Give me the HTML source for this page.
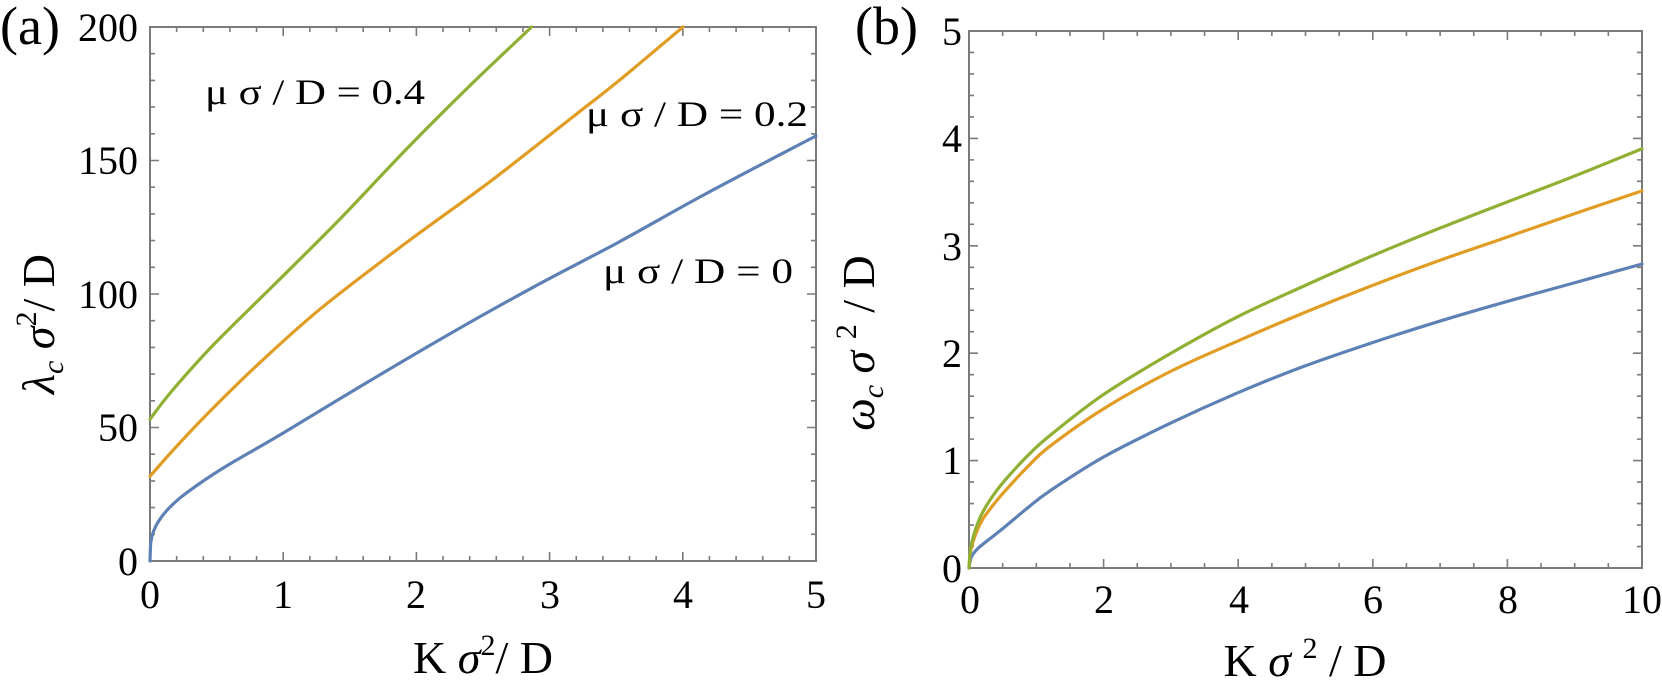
<!DOCTYPE html>
<html><head><meta charset="utf-8"><style>
html,body{margin:0;padding:0;background:#fff;}
svg{display:block;font-family:"Liberation Serif","DejaVu Serif",serif;}
</style></head><body>
<svg id="s" width="1662" height="682" viewBox="0 0 1662 682" xmlns="http://www.w3.org/2000/svg">
<g id="ticks" stroke="#7a7a7a" stroke-width="1.6" fill="none"></g>
<rect x="150" y="27" width="666" height="534" fill="none" stroke="#7a7a7a" stroke-width="2"/>
<rect x="969" y="31" width="673" height="537" fill="none" stroke="#7a7a7a" stroke-width="2"/>
<g fill="none" stroke-width="3.2" stroke-linejoin="round" stroke-linecap="round">
<g transform="translate(150,27) scale(0.42638,0.34563) translate(0,-10)">
<path class="c" vector-effect="non-scaling-stroke" stroke="#5e81b5" data-p="0,1555 2,1500 8,1470 20,1440 40,1408 70,1373 100,1345 150,1303 200,1265 312,1185 500,1045 700,900 900,762 1100,632 1300,495 1562,325"/>
<path class="c" vector-effect="non-scaling-stroke" stroke="#e19c24" data-p="0,1310 50,1240 130,1135 250,990 400,825 600,635 800,455 1000,262 1100,165 1250,10"/>
<path class="c" vector-effect="non-scaling-stroke" stroke="#8fb032" data-p="0,1145 50,1065 150,928 300,745 450,560 600,365 750,180 895,10"/>
</g>
<g transform="translate(969,31) scale(0.44629,0.35681) translate(-20,-30)">
<path class="c" vector-effect="non-scaling-stroke" stroke="#5e81b5" data-p="20,1535 25,1505 40,1480 70,1450 100,1420 150,1368 200,1320 320,1225 470,1130 620,1045 770,970 920,905 1070,845 1220,790 1370,738 1528,683"/>
<path class="c" vector-effect="non-scaling-stroke" stroke="#e19c24" data-p="20,1535 22,1500 25,1480 35,1440 50,1400 75,1357 100,1320 150,1253 200,1195 320,1090 470,985 620,900 770,820 920,745 1070,675 1220,610 1370,545 1528,478"/>
<path class="c" vector-effect="non-scaling-stroke" stroke="#8fb032" data-p="20,1535 22,1495 25,1470 35,1425 50,1380 75,1330 100,1290 150,1222 200,1165 320,1050 470,935 620,832 770,745 920,662 1070,585 1220,512 1370,440 1528,360"/>
</g>
</g>
<g font-size="40" fill="#000">
<text x="0" y="44" font-size="54">(a)</text>
<text x="855" y="44" font-size="54">(b)</text>
<g text-anchor="end">
<text x="138" y="41">200</text><text x="138" y="174">150</text><text x="138" y="308">100</text><text x="138" y="441">50</text><text x="138" y="575">0</text>
<text x="962" y="45">5</text><text x="962" y="152">4</text><text x="962" y="260">3</text><text x="962" y="367">2</text><text x="962" y="474">1</text><text x="962" y="582">0</text>
</g>
<g text-anchor="middle">
<text x="150" y="608">0</text><text x="283" y="608">1</text><text x="416" y="608">2</text><text x="550" y="608">3</text><text x="683" y="608">4</text><text x="816" y="608">5</text>
<text x="970" y="613">0</text><text x="1104" y="613">2</text><text x="1239" y="613">4</text><text x="1373" y="613">6</text><text x="1508" y="613">8</text><text x="1642" y="613">10</text>
</g>
</g>
<g font-size="46" fill="#000">
<text x="483" y="673" text-anchor="middle">K <tspan font-style="italic">σ</tspan><tspan font-size="30" dy="-18">2</tspan><tspan dy="18">/ D</tspan></text>
<text x="1305" y="676" text-anchor="middle">K <tspan font-style="italic">σ</tspan> <tspan font-size="30" dy="-18">2</tspan><tspan dy="18"> / D</tspan></text>
<text transform="translate(54,324) rotate(-90)" text-anchor="middle"><tspan font-style="italic">λ</tspan><tspan font-style="italic" font-size="30" dy="9">c</tspan><tspan dy="-9"> </tspan><tspan font-style="italic">σ</tspan><tspan font-size="30" dy="-18">2</tspan><tspan dy="18">/ D</tspan></text>
<text transform="translate(874,343) rotate(-90)" text-anchor="middle"><tspan font-style="italic">ω</tspan><tspan font-style="italic" font-size="30" dy="9">c</tspan><tspan dy="-9"> </tspan><tspan font-style="italic">σ</tspan> <tspan font-size="30" dy="-18">2</tspan><tspan dy="18"> / D</tspan></text>
</g>
<g font-size="36" fill="#000">
<text x="205" y="104" textLength="220" lengthAdjust="spacingAndGlyphs">μ σ / D = 0.4</text>
<text x="586" y="126" textLength="222" lengthAdjust="spacingAndGlyphs">μ σ / D = 0.2</text>
<text x="603" y="283" textLength="190" lengthAdjust="spacingAndGlyphs">μ σ / D = 0</text>
</g>
</svg>
<script>
(function(){
var g=document.getElementById('ticks'),d='';
function panel(x0,y0,x1,y1,nx,mx,ny,my){
 var w=x1-x0,h=y1-y0,i,L;
 for(i=0;i<=nx;i++){var x=x0+w*i/nx;L=(i%mx==0)?9:5;d+='M'+x+' '+y1+'v'+(-L)+'M'+x+' '+y0+'v'+L;}
 for(i=0;i<=ny;i++){var y=y1-h*i/ny;L=(i%my==0)?9:5;d+='M'+x0+' '+y+'h'+L+'M'+x1+' '+y+'h'+(-L);}
}
panel(150,27,816,561,25,5,20,5);
panel(969,31,1642,568,20,4,25,5);
var p=document.createElementNS('http://www.w3.org/2000/svg','path');p.setAttribute('d',d);g.appendChild(p);
var cs=document.querySelectorAll('path.c');
for(var k=0;k<cs.length;k++){
 var pts=cs[k].getAttribute('data-p').split(' ').map(function(s){var a=s.split(',');return [+a[0],+a[1]];});
 var s='M'+pts[0][0]+' '+pts[0][1];
 for(var i=0;i<pts.length-1;i++){
  var p0=pts[i>0?i-1:i],p1=pts[i],p2=pts[i+1],p3=pts[i+2<pts.length?i+2:i+1];
  var c1x=p1[0]+(p2[0]-p0[0])/6,c1y=p1[1]+(p2[1]-p0[1])/6,c2x=p2[0]-(p3[0]-p1[0])/6,c2y=p2[1]-(p3[1]-p1[1])/6;
  s+='C'+c1x+' '+c1y+' '+c2x+' '+c2y+' '+p2[0]+' '+p2[1];
 }
 cs[k].setAttribute('d',s);
}
})();
</script>
</body></html>
